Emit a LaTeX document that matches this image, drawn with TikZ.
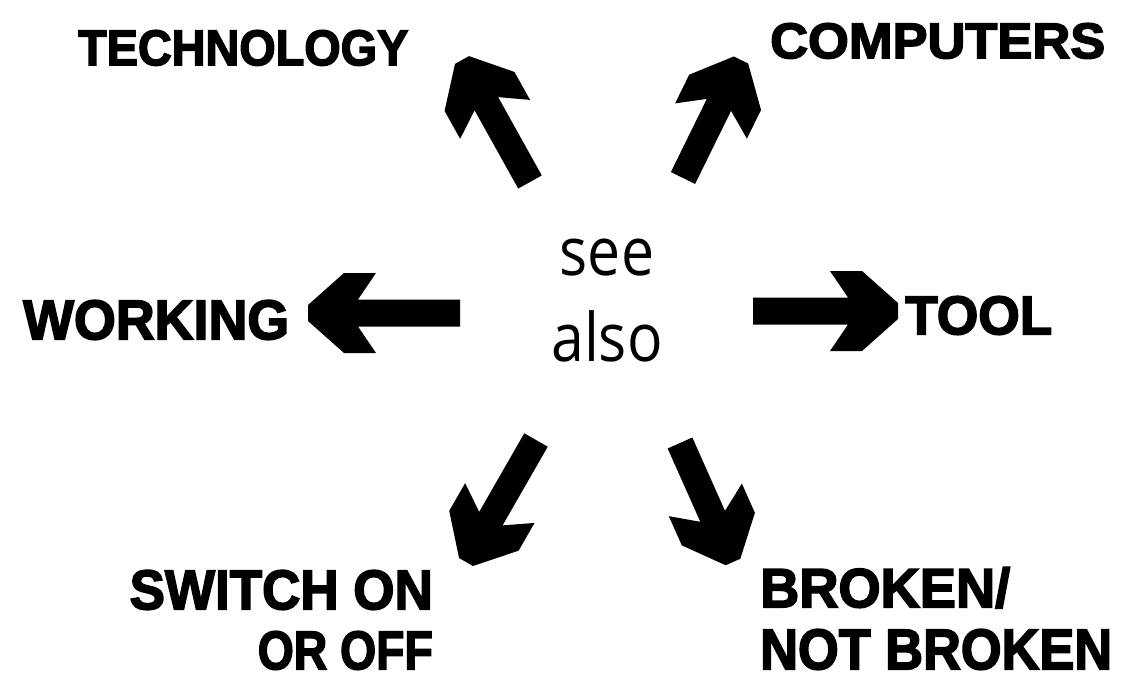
\documentclass[tikz,border=0pt]{standalone}
\usepackage{fontspec}
\usepackage{graphicx}
\usetikzlibrary{calc}
\newfontfamily\heavy[FakeBold=3]{Liberation Sans}
\newfontfamily\seefont[FakeStretch=0.88]{Open Sans}
\newdimen\fadx
\newdimen\fady
\newcommand\fatarrow[2]{%
  \pgfextractx{\fadx}{\pgfpointdiff{\pgfpointanchor{#1}{center}}{\pgfpointanchor{#2}{center}}}%
  \pgfextracty{\fady}{\pgfpointdiff{\pgfpointanchor{#1}{center}}{\pgfpointanchor{#2}{center}}}%
  \pgfmathsetmacro\faang{atan2(\fady,\fadx)}%
  \pgfmathsetmacro\falen{veclen(\fadx,\fady)}%
  \fill[fatarrowstyle, shift={(#1)}, rotate=\faang]
    (0,13.5) -- ({\falen-50},13.5) -- ({\falen-68},40) -- ({\falen-36},40)
    -- (\falen,8) -- (\falen,-8) -- ({\falen-36},-40) -- ({\falen-68},-40)
    -- ({\falen-50},-13.5) -- (0,-13.5) -- cycle;
}
\begin{document}
\begin{tikzpicture}[x=1pt,y=-1pt,
  fatarrowstyle/.style={fill=black},
  lbl/.style={inner sep=0pt, text=black}]
\useasboundingbox[fill=white] (0,0) rectangle (1123,685);

% centre text
\node[align=center, inner sep=0pt, font=\seefont\fontsize{67}{86}\selectfont] (c) at (607,301) {see\\also};

% labels
\node[lbl, anchor=north west] (tech) at (78,30) {\resizebox{330pt}{35pt}{\heavy\bfseries TECHNOLOGY}};
\node[lbl, anchor=north west] (comp) at (770,23) {\resizebox{335pt}{35pt}{\heavy\bfseries COMPUTERS}};
\node[lbl, anchor=north west] (work) at (23,300) {\resizebox{266pt}{39pt}{\heavy\bfseries WORKING}};
\node[lbl, anchor=north west] (tool) at (905,296) {\resizebox{147pt}{38pt}{\heavy\bfseries TOOL}};
\node[lbl, anchor=north east] (sw1) at (433,570) {\resizebox{303pt}{39pt}{\heavy\bfseries SWITCH ON}};
\node[lbl, anchor=north east] (sw2) at (433,631) {\resizebox{175pt}{38pt}{\heavy\bfseries OR OFF}};
\node[lbl, anchor=north west] (br1) at (760,567) {\resizebox{250pt}{40pt}{\heavy\bfseries BROKEN/}};
\node[lbl, anchor=north west] (br2) at (760,629) {\resizebox{352pt}{40pt}{\heavy\bfseries NOT BROKEN}};

% arrow end points
\coordinate (t1) at (530,182); \coordinate (h1) at (462,60);
\coordinate (t2) at (683,178); \coordinate (h2) at (741,60);
\coordinate (t3) at (460,313); \coordinate (h3) at (308,313);
\coordinate (t4) at (753,311); \coordinate (h4) at (898,311);
\coordinate (t5) at (536,440); \coordinate (h5) at (466,562);
\coordinate (t6) at (680,443); \coordinate (h6) at (733,562);

\fatarrow{t1}{h1}
\fatarrow{t2}{h2}
\fatarrow{t3}{h3}
\fatarrow{t4}{h4}
\fatarrow{t5}{h5}
\fatarrow{t6}{h6}
\end{tikzpicture}
\end{document}
